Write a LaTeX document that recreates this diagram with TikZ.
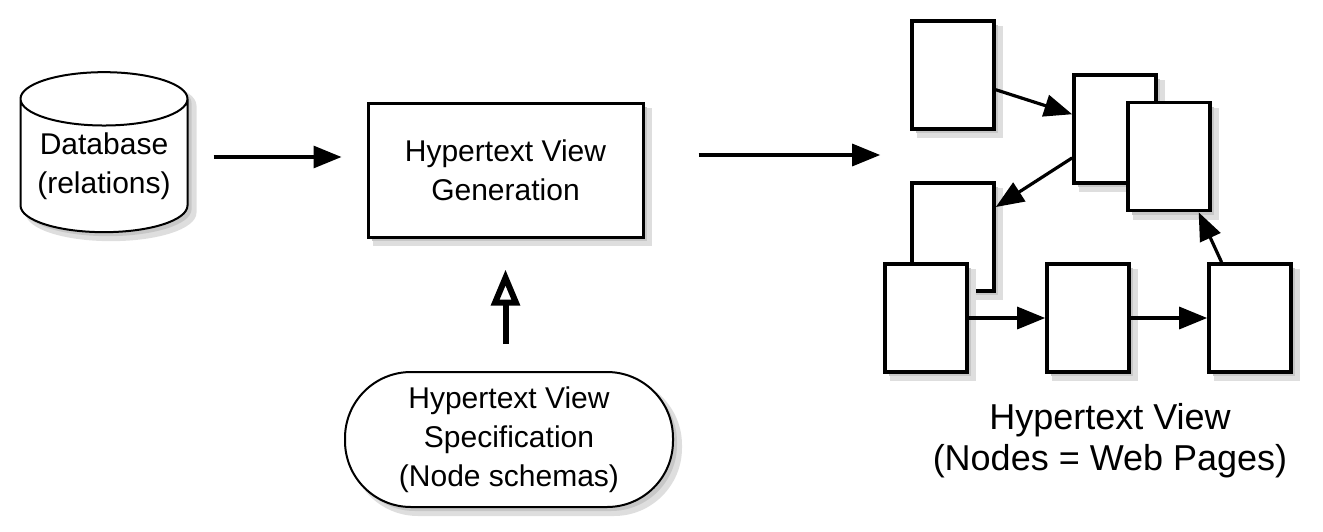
\documentclass[tikz,border=0pt]{standalone}
\usepackage{fontspec}
\setmainfont{Liberation Sans}
\usetikzlibrary{shapes.geometric}
\usetikzlibrary{positioning}
\usetikzlibrary{arrows.meta}
\usetikzlibrary{calc}

\tikzset{
  shadowed/.style={preaction={fill=black!13, draw=black!13, line width=2pt, transform canvas={xshift=3.5pt, yshift=-3.5pt}},
                   preaction={fill=black!22, transform canvas={xshift=2pt, yshift=-2pt}}},
  page/.style={draw, line width=1.8pt, fill=white, minimum width=41pt, minimum height=54pt, inner sep=0pt, shadowed},
  arr/.style={-{Triangle[length=14pt,width=11pt]}, line width=1.6pt},
  txt/.style={align=center, font=\fontsize{15}{19.5}\selectfont}
}

\begin{document}
\begin{tikzpicture}[x=0.5pt, y=-0.5pt]
            \useasboundingbox (0,0) rectangle (1323,531);
            % left part: database, generator, specification
            \node[draw, cylinder, shape border rotate=90, aspect=0.4, line width=1pt, fill=white,
                  minimum width=83.5pt, minimum height=80pt, inner sep=0pt, shadowed, txt] (db) at (104,166) {Database\\(relations)};
            \node[draw, rectangle, line width=1.5pt, fill=white, minimum width=137.5pt, minimum height=67pt, shadowed, txt] (gen) at (505.5,170) {Hypertext View\\Generation};
            \node[draw, rectangle, rounded corners=33pt, line width=1pt, fill=white, minimum width=164pt, minimum height=67.5pt, shadowed, txt] (spec) at (509,439.5) {Hypertext View\\Specification\\(Node schemas)};

            % web pages
            \node[page] (p1) at (953,75) {};
            \node[page] (p2) at (1115,129) {};
            \node[page] (p3) at (1169,156.5) {};
            \node[page] (p4) at (953,237) {};
            \node[page] (p5) at (926,318) {};
            \node[page] (p6) at (1088,318) {};
            \node[page] (p7) at (1250,318) {};

            \draw[arr, shorten <=12.5pt, shorten >=12.5pt] ($(db.east)+(0,-9)$) -- ($(db.east -| gen.west)+(0,-9)$);
            \draw[arr, shorten <=27pt, shorten >=1.5pt] ($(gen.east)+(0,-15)$) -- ($(gen.east -| p5.west)+(0,-15)$);
            \draw[-{Triangle[open,length=18pt,width=14pt]}, line width=3pt, shorten <=13.5pt, shorten >=15.5pt] (gen.south |- spec.north) -- (gen.south);

            \draw[arr] (p1.-19) -- (p2.161);
            \draw[arr] (p2.214) -- (p4.35);
            \draw[arr] (p5.east) -- (p6.west);
            \draw[arr] (p6.east) -- (p7.west);
            \draw[arr] (p7.117) -- (p3.-62);

            \node[align=center, font=\fontsize{18}{20.5}\selectfont] (view) at (1110,441) {Hypertext View\\(Nodes = Web Pages)};
        \end{tikzpicture}
\end{document}
